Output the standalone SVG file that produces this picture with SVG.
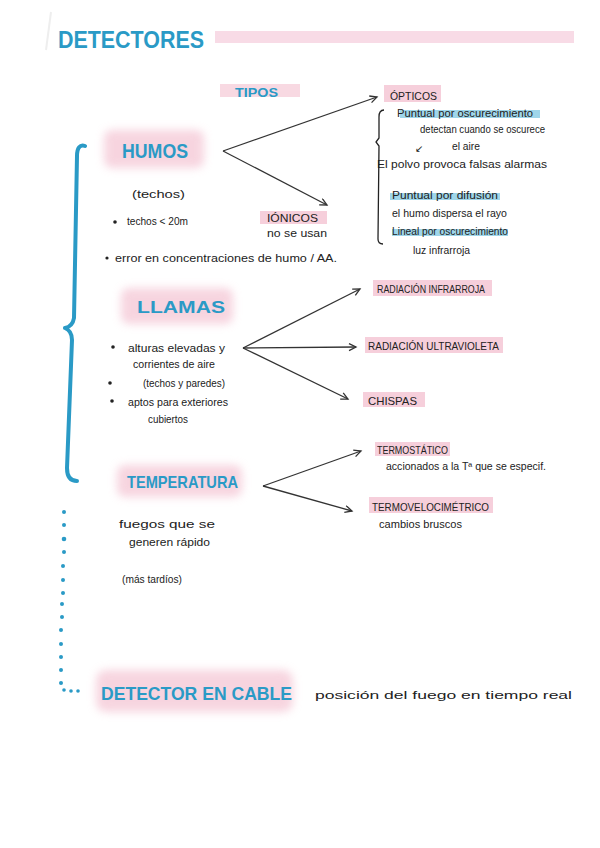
<svg xmlns="http://www.w3.org/2000/svg" width="600" height="848" viewBox="0 0 600 848">
<defs>
<style>
.t{font-family:"Liberation Sans",Arial,sans-serif;font-size:10px;fill:#222}
.c{font-family:"Liberation Sans",Arial,sans-serif;font-size:11px;fill:#222}
.b{font-family:"Liberation Sans",Arial,sans-serif;font-weight:bold;fill:#2a9ac6}
.pk{fill:#f6cfdb}
.bl{fill:#9fd6ea}
.blur{fill:#f2b9cb;opacity:0.6}
.ar{fill:none;stroke:#333;stroke-width:1.3;marker-end:url(#ah)}
.dot{fill:#2a9ac6}
</style>
<filter id="fz" x="-20%" y="-40%" width="140%" height="180%"><feGaussianBlur stdDeviation="4"/></filter>
<marker id="ah" markerWidth="10" markerHeight="10" refX="8" refY="4" orient="auto" markerUnits="userSpaceOnUse"><path d="M1,0.5 L8,4 L1,7.5" fill="none" stroke="#333" stroke-width="1.3"/></marker>
</defs>
<rect width="600" height="848" fill="#ffffff"/>
<path d="M51,12 L46,50" stroke="#eeeeee" stroke-width="2" fill="none"/>

<g id="title">
<rect x="215" y="31" width="359" height="12" fill="#f8dbe6"/>
<text class="b" x="58" y="48" font-size="24" textLength="146" lengthAdjust="spacingAndGlyphs">DETECTORES</text>
</g>

<g id="tipos">
<rect class="pk" x="220" y="84" width="80" height="13" opacity="0.8"/>
<text class="b" x="235" y="97" font-size="12" textLength="43" lengthAdjust="spacingAndGlyphs">TIPOS</text>
</g>

<g id="humos">
<rect class="blur" x="104" y="130" width="100" height="38" rx="8" filter="url(#fz)"/>
<text class="b" x="122" y="158" font-size="20" textLength="66" lengthAdjust="spacingAndGlyphs">HUMOS</text>
<text class="t" x="132" y="198" font-size="14" textLength="53" lengthAdjust="spacingAndGlyphs">(techos)</text>
<circle cx="115" cy="222" r="1.8" fill="#222"/>
<text class="t" x="127" y="225" textLength="61" lengthAdjust="spacingAndGlyphs">techos &lt; 20m</text>
<circle cx="107" cy="258" r="1.6" fill="#222"/>
<text class="t" x="115" y="262" font-size="9" textLength="222" lengthAdjust="spacingAndGlyphs">error en concentraciones de humo / AA.</text>
</g>

<g id="ionicos">
<rect class="pk" x="260" y="211" width="67" height="13"/>
<text class="c" x="267" y="222" textLength="51" lengthAdjust="spacingAndGlyphs">IÓNICOS</text>
<text class="t" x="267" y="237" textLength="60" lengthAdjust="spacingAndGlyphs">no se usan</text>
</g>

<g id="opticos">
<rect class="pk" x="384" y="85" width="57" height="17"/>
<text class="c" x="390" y="100" font-size="12" textLength="47" lengthAdjust="spacingAndGlyphs">ÓPTICOS</text>
<rect class="bl" x="400" y="110" width="140" height="8"/>
<text class="t" x="397" y="117" textLength="136" lengthAdjust="spacingAndGlyphs">Puntual por oscurecimiento</text>
<text class="t" x="420" y="133" font-size="9" textLength="125" lengthAdjust="spacingAndGlyphs">detectan cuando se oscurece</text>
<text class="t" x="415" y="152" font-size="13">↙</text>
<text class="t" x="452" y="150" font-size="9" textLength="28" lengthAdjust="spacingAndGlyphs">el aire</text>
<text class="t" x="377" y="168" font-size="9" textLength="170" lengthAdjust="spacingAndGlyphs">El polvo provoca falsas alarmas</text>
<rect class="bl" x="390" y="193" width="110" height="7"/>
<text class="t" x="392" y="199" font-size="9" textLength="106" lengthAdjust="spacingAndGlyphs">Puntual por difusión</text>
<text class="t" x="392" y="217" font-size="9" textLength="115" lengthAdjust="spacingAndGlyphs">el humo dispersa el rayo</text>
<rect class="bl" x="392" y="229" width="116" height="7"/>
<text class="t" x="392" y="235" font-size="9" textLength="116" lengthAdjust="spacingAndGlyphs">Lineal por oscurecimiento</text>
<text class="t" x="413" y="254" font-size="9" textLength="57" lengthAdjust="spacingAndGlyphs">luz infrarroja</text>
<path d="M384,110 C380,110 379,113 379,117 L379,138 L376,142 L379,146 L378,239 C378,243 380,244 383,244" fill="none" stroke="#222" stroke-width="1.3"/>
</g>

<g id="llamas">
<rect class="blur" x="121" y="288" width="112" height="36" rx="8" filter="url(#fz)"/>
<text class="b" x="137" y="313" font-size="17" textLength="88" lengthAdjust="spacingAndGlyphs">LLAMAS</text>
<circle cx="113" cy="347" r="1.8" fill="#222"/>
<text class="t" x="128" y="352" textLength="97" lengthAdjust="spacingAndGlyphs">alturas elevadas y</text>
<text class="t" x="133" y="368" font-size="9" textLength="82" lengthAdjust="spacingAndGlyphs">corrientes de aire</text>
<circle cx="110" cy="383" r="1.8" fill="#222"/>
<text class="t" x="143" y="387" textLength="82" lengthAdjust="spacingAndGlyphs">(techos y paredes)</text>
<circle cx="112" cy="401" r="1.8" fill="#222"/>
<text class="t" x="128" y="406" textLength="100" lengthAdjust="spacingAndGlyphs">aptos para exteriores</text>
<text class="t" x="148" y="423" font-size="9" textLength="40" lengthAdjust="spacingAndGlyphs">cubiertos</text>
</g>

<g id="infrarroja">
<rect class="pk" x="373" y="280" width="119" height="16"/>
<text class="c" x="377" y="293" textLength="108" lengthAdjust="spacingAndGlyphs">RADIACIÓN INFRARROJA</text>
</g>
<g id="ultravioleta">
<rect class="pk" x="365" y="337" width="138" height="16"/>
<text class="c" x="368" y="350" textLength="131" lengthAdjust="spacingAndGlyphs">RADIACIÓN ULTRAVIOLETA</text>
</g>
<g id="chispas">
<rect class="pk" x="363" y="392" width="62" height="15"/>
<text class="c" x="368" y="405" textLength="49" lengthAdjust="spacingAndGlyphs">CHISPAS</text>
</g>

<g id="temperatura">
<rect class="blur" x="117" y="465" width="125" height="32" rx="8" filter="url(#fz)"/>
<text class="b" x="127" y="488" font-size="17" textLength="111" lengthAdjust="spacingAndGlyphs">TEMPERATURA</text>
<text class="t" x="119" y="528" font-size="11" textLength="96" lengthAdjust="spacingAndGlyphs">fuegos que se</text>
<text class="t" x="129" y="546" font-size="11" textLength="81" lengthAdjust="spacingAndGlyphs">generen rápido</text>
<text class="t" x="122" y="583" font-size="9" textLength="60" lengthAdjust="spacingAndGlyphs">(más tardíos)</text>
</g>

<g id="termostatico">
<rect class="pk" x="375" y="442" width="75" height="14"/>
<text class="c" x="377" y="454" font-size="10" textLength="71" lengthAdjust="spacingAndGlyphs">TERMOSTÁTICO</text>
<text class="t" x="386" y="470" font-size="8" textLength="160" lengthAdjust="spacingAndGlyphs">accionados a la Tª que se especif.</text>
</g>
<g id="termovelocimetrico">
<rect class="pk" x="369" y="497" width="124" height="16"/>
<text class="c" x="372" y="511" textLength="117" lengthAdjust="spacingAndGlyphs">TERMOVELOCIMÉTRICO</text>
<text class="t" x="379" y="528" font-size="9" textLength="83" lengthAdjust="spacingAndGlyphs">cambios bruscos</text>
</g>

<g id="cable">
<rect class="blur" x="96" y="670" width="197" height="42" rx="10" filter="url(#fz)"/>
<text class="b" x="101" y="700" font-size="19" textLength="191" lengthAdjust="spacingAndGlyphs">DETECTOR EN CABLE</text>
<text class="t" x="315" y="699" font-size="12" textLength="257" lengthAdjust="spacingAndGlyphs">posición del fuego en tiempo real</text>
</g>

<g id="brace">
<path d="M85,146 C80,144 77,148 77,156 L74,318 C73,324 70,327 65,328 C70,330 72,334 72,340 L67,468 C67,476 70,481 77,481" fill="none" stroke="#2a9ac6" stroke-width="4" stroke-linecap="round" stroke-linejoin="round"/>
<g class="dot">
<circle cx="64" cy="512" r="2"/><circle cx="64" cy="525" r="2"/><circle cx="64" cy="539" r="2.3"/><circle cx="64" cy="552" r="2"/><circle cx="63" cy="566" r="2"/><circle cx="63" cy="580" r="2"/><circle cx="63" cy="593" r="2"/><circle cx="62" cy="604" r="2"/><circle cx="62" cy="617" r="2"/><circle cx="61" cy="630" r="2"/><circle cx="61" cy="644" r="2"/><circle cx="61" cy="657" r="2"/><circle cx="61" cy="670" r="2"/><circle cx="61" cy="683" r="2"/><circle cx="64" cy="690" r="1.8"/><circle cx="71" cy="691" r="1.8"/><circle cx="78" cy="691" r="1.8"/>
</g>
</g>

<g id="connectors">
<path class="ar" d="M223,151 L377,97"/>
<path class="ar" d="M223,151 L327,205"/>
<path class="ar" d="M243,348 L360,289"/>
<path class="ar" d="M243,348 L356,347"/>
<path class="ar" d="M243,348 L348,399"/>
<path class="ar" d="M263,486 L361,451"/>
<path class="ar" d="M263,486 L352,511"/>
</g>
</svg>
